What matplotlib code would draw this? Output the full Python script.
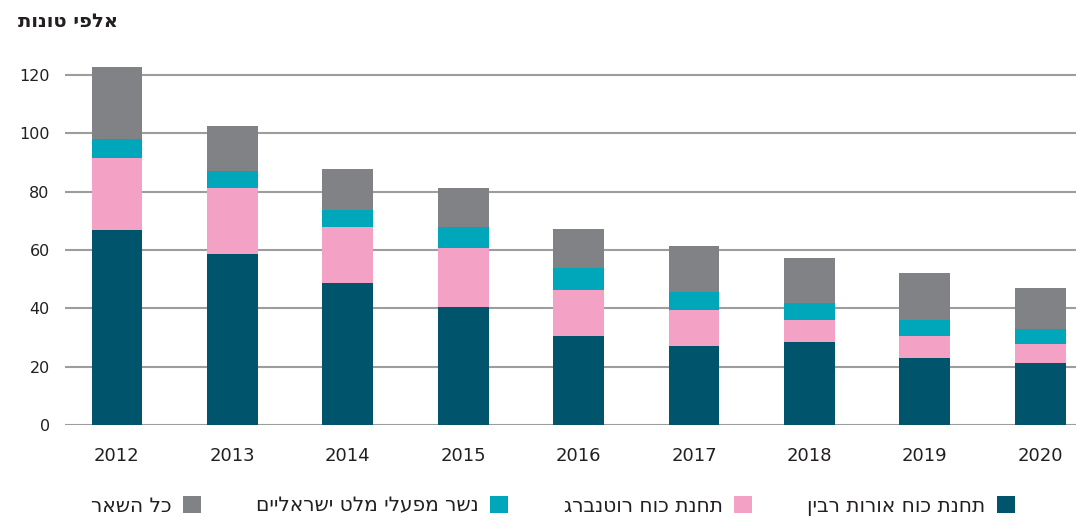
import matplotlib
matplotlib.use('Agg')
import matplotlib.pyplot as plt
import numpy as np
from matplotlib.patches import Patch

# data (thousand tons)
years = ['2012', '2013', '2014', '2015', '2016', '2017', '2018', '2019', '2020']
rabin = [66.7, 58.5, 48.6, 40.6, 30.6, 27.1, 28.3, 23.1, 21.3]
rutenberg = [24.9, 22.6, 19.2, 20.2, 15.7, 12.2, 7.6, 7.5, 6.4]
malt = [6.4, 6.0, 5.8, 7.0, 7.6, 6.4, 5.8, 5.3, 5.2]
rest = [24.6, 15.5, 14.1, 13.3, 13.3, 15.7, 15.7, 16.2, 14.0]

series_names = ['תחנת כוח אורות רבין', 'תחנת כוח רוטנברג', 'נשר מפעלי מלט ישראליים', 'כל השאר']
colors = ['#00546b', '#f4a1c6', '#00a6ba', '#808285']
y_title = 'אלפי טונות'
text_color = '#231f20'


def rtl(s):
    # matplotlib has no bidi support, flip hebrew to visual order
    return s[::-1]


fig = plt.figure(figsize=(10.76, 5.19), dpi=100)
ax = fig.add_axes([65 / 1076, 94 / 519, 1 - 65 / 1076, (425 - 60.4) / 519])

x = np.arange(len(years))
bottom = np.zeros(len(years))
for vals, c in zip([rabin, rutenberg, malt, rest], colors):
    ax.bar(x, vals, width=0.44, bottom=bottom, color=c, edgecolor='none', zorder=3)
    bottom += np.array(vals)

ax.set_ylim(0, 125)
ax.set_xlim(-0.45, 8.31)
ax.set_yticks(range(0, 121, 20))
ax.set_xticks(x)
ax.set_xticklabels(years)
ax.yaxis.grid(True, color='#9d9d9d', linewidth=1.5, zorder=0)
ax.set_axisbelow(True)
for sp in ax.spines.values():
    sp.set_visible(False)
ax.tick_params(axis='y', length=0, pad=11, labelsize=11.5, labelcolor=text_color)
ax.tick_params(axis='x', length=0, pad=16, labelsize=13, labelcolor=text_color)

fig.text(18 / 1076, 1 - 22 / 519, rtl(y_title), ha='left', va='center',
         fontsize=14, fontweight='bold', color=text_color)

handles = [Patch(facecolor=c, edgecolor='none') for c in colors]
labels = [rtl(s) for s in series_names]
# legend reads right to left, so reverse the column order
fig.legend(handles[::-1], labels[::-1], loc='center', ncol=4,
           bbox_to_anchor=(553 / 1076, 1 - 506 / 519), frameon=False,
           markerfirst=False, handlelength=0.9, handleheight=0.9,
           handletextpad=0.55, columnspacing=2.75, fontsize=14.5,
           labelcolor=text_color)

fig.savefig('out.png', dpi=100)
